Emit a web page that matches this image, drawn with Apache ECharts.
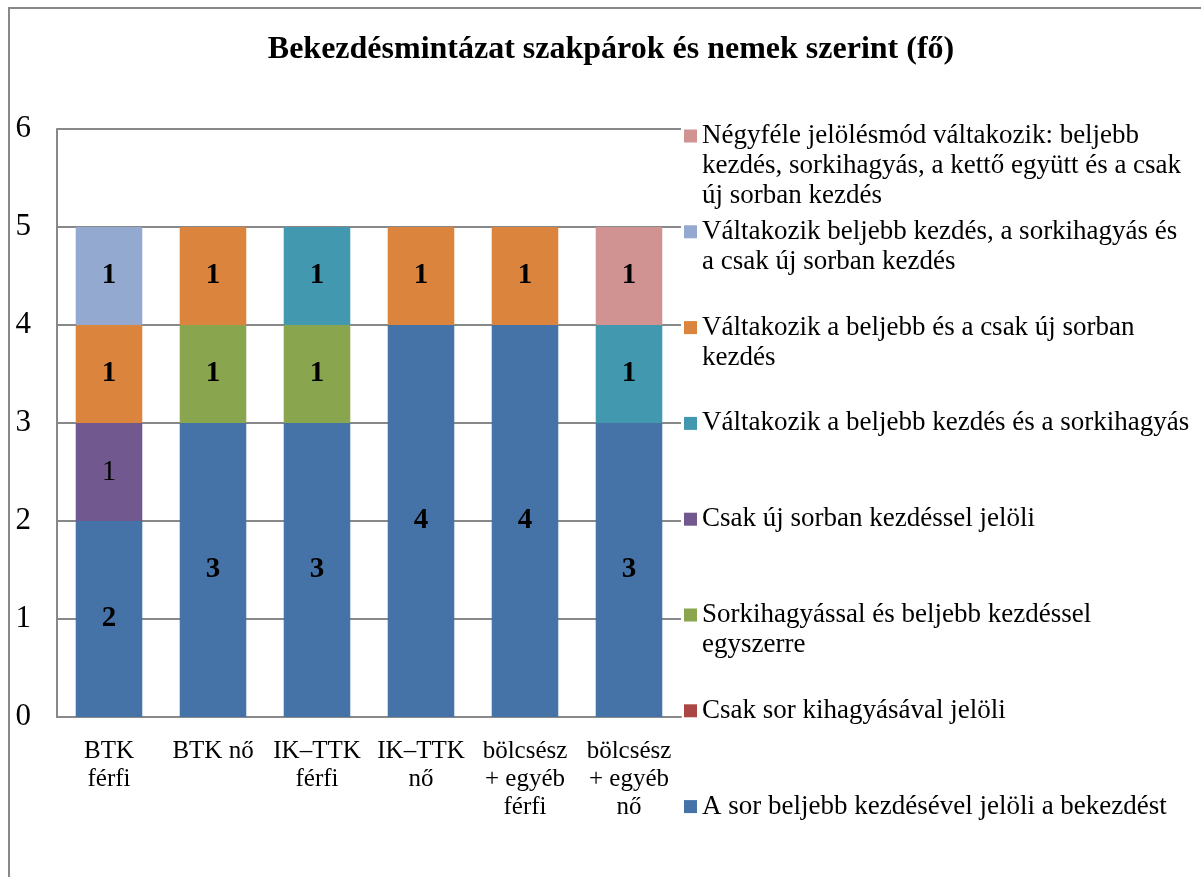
<!DOCTYPE html>
<html>
<head>
<meta charset="utf-8">
<title>Bekezdésmintázat</title>
<script src="https://cdn.jsdelivr.net/npm/echarts@6/dist/echarts.min.js"></script>
<style>
  html, body { margin: 0; padding: 0; background: #fff; }
  #frame {
    position: absolute;
    left: 8px;
    top: 7px;
    width: 1300px;
    height: 1000px;
    border-left: 2px solid #888;
    border-top: 2px solid #888;
  }
  #chart { position: absolute; left: 0; top: 0; width: 1201px; height: 877px; }
</style>
</head>
<body>
<div id="frame"></div>
<div id="chart"></div>
<script>
// kategóriák (szakpár + nem)
const categories = ['BTK\nférfi', 'BTK nő', 'IK–TTK\nférfi', 'IK–TTK\nnő', 'bölcsész\n+ egyéb\nférfi', 'bölcsész\n+ egyéb\nnő']

// sorozatok nevei, alulról felfelé a halmozásban
const seriesNames = [
  'A sor beljebb kezdésével jelöli a bekezdést',
  'Csak sor kihagyásával jelöli',
  'Sorkihagyással és beljebb kezdéssel egyszerre',
  'Csak új sorban kezdéssel jelöli',
  'Váltakozik a beljebb kezdés és a sorkihagyás',
  'Váltakozik a beljebb és a csak új sorban kezdés',
  'Váltakozik beljebb kezdés, a sorkihagyás és a csak új sorban kezdés',
  'Négyféle jelölésmód váltakozik: beljebb kezdés, sorkihagyás, a kettő együtt és a csak új sorban kezdés'
]

// jelmagyarázat tördelve, ahogy a képen
const legendLabels = [
  'A sor beljebb kezdésével jelöli a bekezdést',
  'Csak sor kihagyásával jelöli',
  'Sorkihagyással és beljebb kezdéssel\negyszerre',
  'Csak új sorban kezdéssel jelöli',
  'Váltakozik a beljebb kezdés és a sorkihagyás',
  'Váltakozik a beljebb és a csak új sorban\nkezdés',
  'Váltakozik beljebb kezdés, a sorkihagyás és\na csak új sorban kezdés',
  'Négyféle jelölésmód váltakozik: beljebb\nkezdés, sorkihagyás, a kettő együtt és a csak\núj sorban kezdés'
]

// értékek (fő)
const beljebb = [2, 3, 3, 4, 4, 3]
const sorkihagyas = [0, 0, 0, 0, 0, 0]
const egyszerre = [0, 1, 1, 0, 0, 0]
const ujSor = [1, 0, 0, 0, 0, 0]
const valtBeljebbSorki = [0, 0, 1, 0, 0, 1]
const valtBeljebbUjSor = [1, 1, 0, 1, 1, 0]
const valtHarom = [1, 0, 0, 0, 0, 0]
const negyfele = [0, 0, 0, 0, 0, 1]

const seriesData = [beljebb, sorkihagyas, egyszerre, ujSor, valtBeljebbSorki, valtBeljebbUjSor, valtHarom, negyfele]
const colors = ['#4572A7', '#AA4643', '#89A54E', '#71588F', '#4198AF', '#DB843D', '#93A9CF', '#D19392']

const yTicks = [0, 1, 2, 3, 4, 5, 6]

const FONT = '"Liberation Serif", "Times New Roman", serif'
const LEGEND_LH = 30

// jelmagyarázat: egy legend / sorozat, felülről lefelé fordított sorrendben
const legends = []
const legendStartY = 136
const legendStep = 95.8
for (let k = 0; k < seriesNames.length; k++) {
  const idx = seriesNames.length - 1 - k
  const lines = legendLabels[idx].split('\n')
  const n = lines.length
  // üres sorok elöl, hogy az ikon az első sorhoz igazodjon
  const text = new Array(n).join('\n') + legendLabels[idx]
  const total = 2 * n - 1
  const iconY = legendStartY + k * legendStep
  legends.push({
    data: [seriesNames[idx]],
    left: 684,
    top: iconY - total * LEGEND_LH / 2,
    padding: 0,
    icon: 'rect',
    itemWidth: 13,
    itemHeight: 13,
    selectedMode: true,
    formatter: () => text,
    textStyle: {
      fontFamily: FONT,
      fontSize: 27,
      lineHeight: LEGEND_LH,
      color: '#000'
    }
  })
}

const series = seriesNames.map((name, i) => ({
  name: name,
  type: 'bar',
  stack: 'total',
  barWidth: '64%',
  data: seriesData[i],
  itemStyle: { color: colors[i] },
  label: {
    show: true,
    position: 'inside',
    fontFamily: FONT,
    fontSize: 29,
    // a lila sáv címkéje nem félkövér
    fontWeight: i === 3 ? 'normal' : 'bold',
    color: '#000',
    formatter: p => (p.value > 0 ? String(p.value) : '')
  }
}))

const myChart = echarts.init(document.getElementById('chart'), null, { renderer: 'canvas' })
myChart.setOption({
  animation: false,
  color: colors,
  textStyle: { fontFamily: FONT },
  title: {
    text: 'Bekezdésmintázat szakpárok és nemek szerint (fő)',
    left: 606,
    top: 29,
    textAlign: 'center',
    textStyle: {
      fontFamily: FONT,
      fontSize: 32,
      fontWeight: 'bold',
      color: '#000'
    }
  },
  legend: legends,
  grid: {
    left: 57,
    right: 520,
    top: 129,
    bottom: 160,
    containLabel: false
  },
  xAxis: {
    type: 'category',
    data: categories,
    axisLine: { show: true, lineStyle: { color: '#888', width: 2 } },
    axisTick: { show: false },
    axisLabel: {
      interval: 0,
      margin: 20,
      fontFamily: FONT,
      fontSize: 25,
      lineHeight: 28,
      color: '#000'
    }
  },
  yAxis: {
    type: 'value',
    min: yTicks[0],
    max: yTicks[yTicks.length - 1],
    interval: 1,
    axisLine: { show: true, lineStyle: { color: '#888', width: 2 } },
    axisTick: { show: false },
    splitLine: { show: true, lineStyle: { color: '#888', width: 2 } },
    axisLabel: {
      margin: 26,
      fontFamily: FONT,
      fontSize: 31,
      color: '#000'
    }
  },
  series: series
})
</script>
</body>
</html>
